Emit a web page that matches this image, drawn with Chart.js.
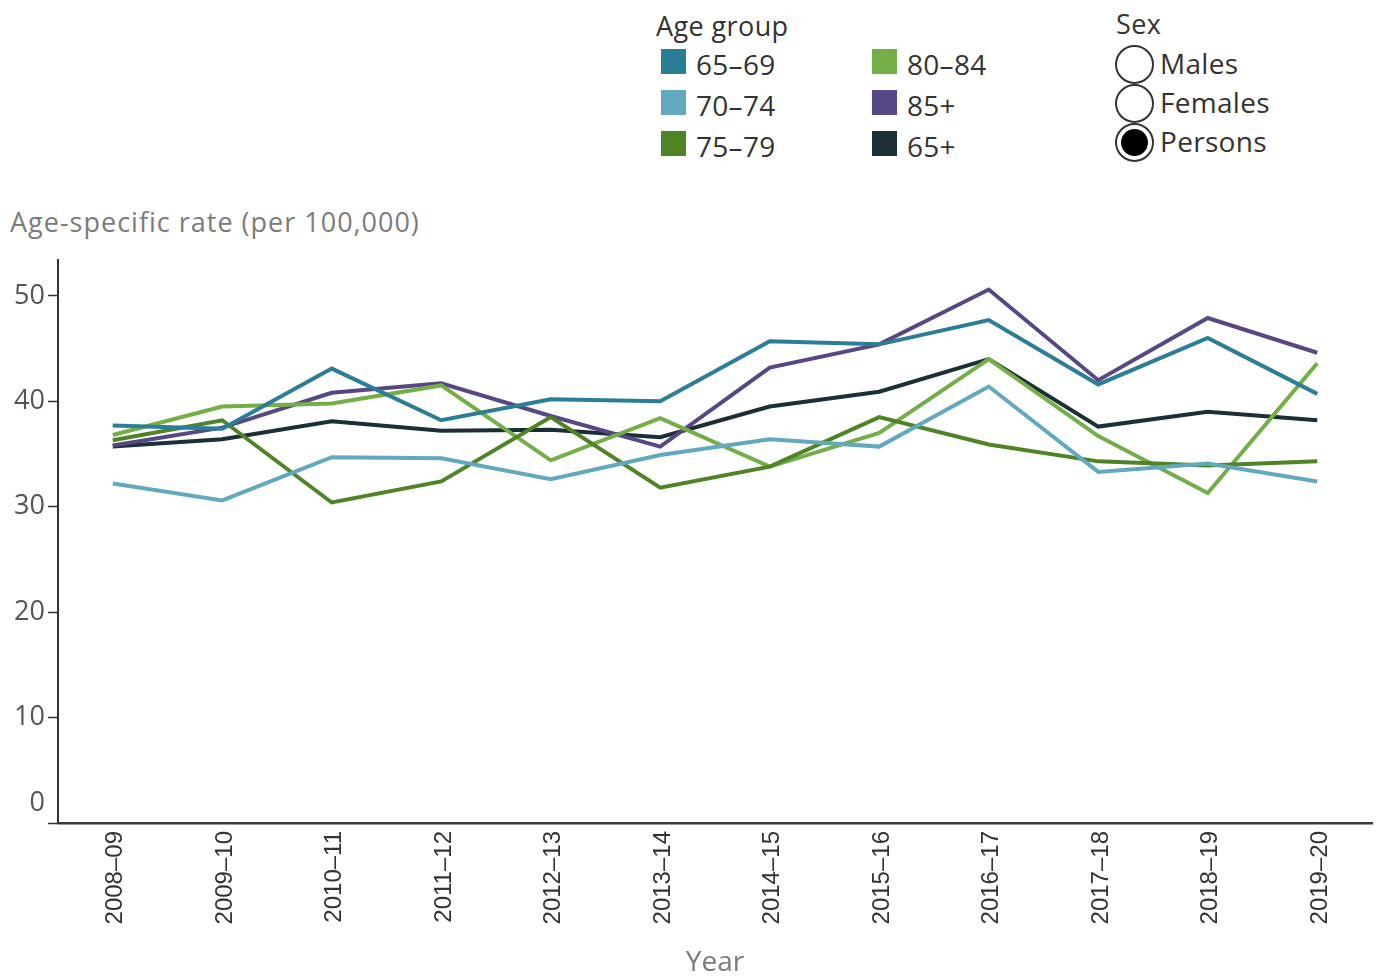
<!DOCTYPE html>
<html>
<head>
<meta charset="utf-8">
<script src="https://cdn.jsdelivr.net/npm/chart.js@4"></script>
<style>
  html, body { margin: 0; padding: 0; background: #fff; }
  body { width: 1380px; height: 977px; position: relative; overflow: hidden; font-family: "Open Sans", sans-serif; }
  #chartWrap { position: absolute; left: 0; top: 0; width: 1380px; height: 977px; }
  .legend-title { position: absolute; font-size: 27px; color: #333; letter-spacing: 0.4px; }
  .legend-item { position: absolute; font-size: 28px; color: #333; line-height: 30px; letter-spacing: 0.3px; }
  .swatch { position: absolute; width: 25px; height: 25px; }
  .radio { position: absolute; width: 35px; height: 35px; border: 2px solid #333; border-radius: 50%; background: #fff; }
  .radio.on::after { content: ''; position: absolute; left: 4px; top: 4px; width: 27px; height: 27px; border-radius: 50%; background: #000; }
  #yTitle { position: absolute; left: 10px; top: 203px; font-size: 27px; color: #7b7b7b; letter-spacing: 1px; }
</style>
</head>
<body>
<div id="yTitle">Age-specific rate (per 100,000)</div>
<div id="legend"></div>
<div id="chartWrap"><canvas id="rateChart" width="1380" height="977"></canvas></div>
<script>
// Financial years on the x axis
const years = ['2008–09', '2009–10', '2010–11', '2011–12', '2012–13', '2013–14',
               '2014–15', '2015–16', '2016–17', '2017–18', '2018–19', '2019–20'];

// Age-specific rates per 100,000 (Persons)
const age65to69 = [37.7, 37.4, 43.1, 38.2, 40.2, 40.0, 45.7, 45.4, 47.7, 41.6, 46.0, 40.7];
const age70to74 = [32.2, 30.6, 34.7, 34.6, 32.6, 34.9, 36.4, 35.7, 41.4, 33.3, 34.1, 32.4];
const age75to79 = [36.3, 38.2, 30.4, 32.4, 38.5, 31.8, 33.8, 38.5, 35.9, 34.3, 33.9, 34.3];
const age80to84 = [36.8, 39.5, 39.8, 41.5, 34.4, 38.4, 33.8, 37.0, 44.0, 36.7, 31.3, 43.6];
const age85plus = [35.8, 37.5, 40.8, 41.7, 38.6, 35.7, 43.2, 45.4, 50.6, 42.0, 47.9, 44.6];
const age65plus = [35.7, 36.4, 38.1, 37.2, 37.3, 36.6, 39.5, 40.9, 44.0, 37.6, 39.0, 38.2];

const groupNames = ['65–69', '70–74', '75–79', '80–84', '85+', '65+'];
const groupColors = ['#2b7d98', '#62a9c0', '#4f8426', '#73ae47', '#574784', '#1b2f37'];
const groupValues = [age65to69, age70to74, age75to79, age80to84, age85plus, age65plus];

const sexOptions = ['Males', 'Females', 'Persons'];
const yTicks = [0, 10, 20, 30, 40, 50];

// Legend: age groups in two columns, sex selector as radio buttons
const legend = document.getElementById('legend');
function addEl(cls, css, text) {
    const el = document.createElement('div');
    el.className = cls;
    Object.assign(el.style, css);
    if (text) el.textContent = text;
    legend.appendChild(el);
    return el;
}
addEl('legend-title', { left: '656px', top: '7px' }, 'Age group');
groupNames.forEach((name, i) => {
    const col = Math.floor(i / 3), row = i % 3;
    const x = 661 + col * 211, y = 49 + row * 41;
    addEl('swatch', { left: x + 'px', top: y + 'px', background: groupColors[i] });
    addEl('legend-item', { left: (x + 35) + 'px', top: y + 'px' }, name);
});
addEl('legend-title', { left: '1116px', top: '5px' }, 'Sex');
sexOptions.forEach((name, i) => {
    const y = 45 + i * 39;
    addEl('radio' + (name === 'Persons' ? ' on' : ''), { left: '1115px', top: y + 'px' });
    addEl('legend-item', { left: '1160px', top: (y + 3) + 'px' }, name);
});

// Draws the "0" label just above the x axis
const zeroLabel = {
    id: 'zeroLabel',
    afterDraw(chart) {
        const y = chart.scales.y;
        const ctx = chart.ctx;
        ctx.save();
        ctx.font = '27px "Open Sans"';
        ctx.fillStyle = '#555';
        ctx.textAlign = 'right';
        ctx.textBaseline = 'middle';
        ctx.fillText('0', 45, y.getPixelForValue(0) - 20);
        ctx.restore();
    }
};

const ctx = document.getElementById('rateChart').getContext('2d');
const rateChart = new Chart(ctx, {
    type: 'line',
    data: {
        labels: years,
        datasets: groupNames.map((name, i) => ({
            label: name,
            data: groupValues[i],
            borderColor: groupColors[i],
            backgroundColor: groupColors[i],
            borderWidth: 4,
            pointRadius: 0,
            tension: 0,
            fill: false
        }))
    },
    plugins: [zeroLabel],
    options: {
        responsive: false,
        animation: false,
        layout: { padding: { top: 260, right: 8, left: 0, bottom: 0 } },
        plugins: {
            legend: { display: false },
            tooltip: { enabled: false }
        },
        scales: {
            x: {
                offset: true,
                grid: { display: false, drawTicks: false },
                border: { display: true, color: '#3a3a3a', width: 2.5 },
                ticks: {
                    minRotation: 90,
                    maxRotation: 90,
                    padding: 8,
                    labelOffset: 3,
                    color: '#333',
                    font: { family: '"Liberation Sans", Arial', size: 24 }
                },
                title: {
                    display: true,
                    text: 'Year',
                    color: '#7b7b7b',
                    font: { family: '"Open Sans"', size: 28 },
                    padding: { top: 0, bottom: -3 }
                },
                afterFit: scale => { scale.height = 154; }
            },
            y: {
                min: 0,
                max: 53.4,
                afterBuildTicks: scale => { scale.ticks = yTicks.map(v => ({ value: v })); },
                grid: { drawOnChartArea: false, drawTicks: true, tickLength: 10, tickColor: '#333', tickWidth: 1.5 },
                border: { display: true, color: '#333', width: 2 },
                ticks: {
                    padding: 3,
                    color: '#555',
                    font: { family: '"Open Sans"', size: 27 },
                    callback: v => (v === 0 ? '' : v)
                },
                afterFit: scale => { scale.width = 58; }
            }
        }
    }
});
</script>
</body>
</html>
